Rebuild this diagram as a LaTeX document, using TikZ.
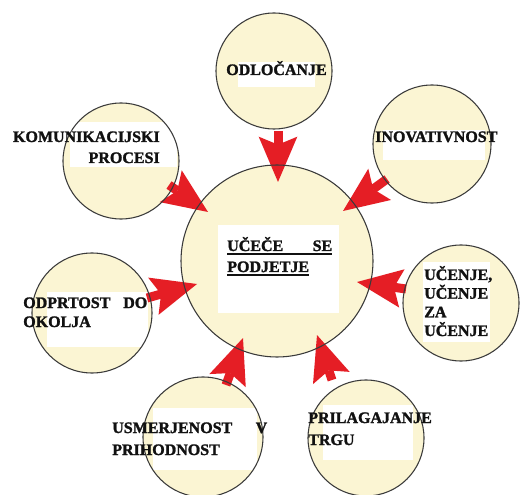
\documentclass[tikz,border=0pt]{standalone}
\usepackage{fontspec}
\setmainfont{Liberation Serif}[BoldFeatures={FakeBold=1.6}]
\usetikzlibrary{arrows.meta}
\definecolor{disc}{HTML}{FBF5D3}
\definecolor{rim}{HTML}{3A3A3A}
\definecolor{arrowred}{HTML}{E51E25}
\definecolor{ink}{HTML}{111111}
% underline with a heavier rule
\newcommand\ulbar[1]{\leavevmode\setbox0\hbox{#1}\rlap{\rule[-3.2pt]{\wd0}{1.4pt}}\box0}
\begin{document}
\begin{tikzpicture}[x=0.75pt,y=-0.75pt,
  bubble/.style={circle, fill=disc, inner sep=0pt, minimum size=1.5pt*#1},
  rimline/.style={draw=rim, line width=0.8pt},
  blank/.style={fill=white},
  label/.style={font=\fontsize{12}{15.75}\selectfont\bfseries, text=ink, inner sep=0pt},
  bigarrow/.style={draw=arrowred, color=arrowred, line width=6.75pt,
    -{Stealth[length=34pt, width=29pt, inset=6pt, line width=0pt]}}]
\useasboundingbox (0,0) rectangle (521,495);
\fill[white] (0,0) rectangle (521,495);

% discs
\node[bubble=96] (core) at (277,261) {};
\node[bubble=58] (odl)  at (274,71)  {};
\node[bubble=58] (kom)  at (121,161) {};
\node[bubble=59] (ino)  at (432,144) {};
\node[bubble=58] (uc)   at (461,303) {};
\node[bubble=60] (odp)  at (92,313)  {};
\node[bubble=60] (usm)  at (203,437) {};
\node[bubble=58] (pri)  at (366,438) {};

% white text panels
\fill[blank] (218,225) rectangle (339,313);
\fill[blank] (238,62) rectangle (315,87);
\fill[blank] (70,122) rectangle (177,167);
\fill[blank] (383,130) rectangle (485,160);
\fill[blank] (423,262) rectangle (490,342);
\fill[blank] (47,292) rectangle (148,347);
\fill[blank] (153,408) rectangle (257,470);
\fill[blank] (323,405) rectangle (413,460);

% arrow end points
\coordinate (a1s) at (278,131); \coordinate (a1e) at (278,182);
\coordinate (a2s) at (169,185); \coordinate (a2e) at (208,212);
\coordinate (a3s) at (387,179); \coordinate (a3e) at (343,211);
\coordinate (a4s) at (406,289); \coordinate (a4e) at (357,282);
\coordinate (a5s) at (147,298); \coordinate (a5e) at (197,284);
\coordinate (a6s) at (226,385); \coordinate (a6e) at (243,338);
\coordinate (a7s) at (332,380); \coordinate (a7e) at (317,335);

% arrows into the central disc
\draw[bigarrow] (a1s) -- (a1e);
\draw[bigarrow] (a2s) -- (a2e);
\draw[bigarrow] (a3s) -- (a3e);
\draw[bigarrow] (a4s) -- (a4e);
\draw[bigarrow] (a5s) -- (a5e);
\draw[bigarrow] (a6s) -- (a6e);
\draw[bigarrow] (a7s) -- (a7e);

% disc outlines
\draw[rimline] (core) circle[radius=96];
\draw[rimline] (odl) circle[radius=58];
\draw[rimline] (kom) circle[radius=58];
\draw[rimline] (ino) circle[radius=59];
\draw[rimline] (uc) circle[radius=58];
\draw[rimline] (odp) circle[radius=60];
\draw[rimline] (usm) circle[radius=60];
\draw[rimline] (pri) circle[radius=58];

% labels
\node[label, anchor=base west, text width=78.75pt, align=left] (tcore) at (227,251)
  {\ulbar{\makebox[78.75pt][s]{UČEČE\hfill SE}}\\\ulbar{PODJETJE}};
\node[label, anchor=base west] (todl) at (226,75) {ODLOČANJE};
\node[label, anchor=base east, text width=112.5pt, align=right] (tkom) at (160,142)
  {KOMUNIKACIJSKI\\PROCESI};
\node[label, anchor=base west] (tino) at (375,142) {INOVATIVNOST};
\node[label, anchor=base west, text width=60pt, align=left,
  font=\fontsize{12}{14}\selectfont\bfseries] (tuc) at (424,280)
  {UČENJE,\\UČENJE\\ZA\\UČENJE};
\node[label, anchor=base west, text width=93pt, align=left,
  font=\fontsize{12}{14.25}\selectfont\bfseries] (todp) at (23,308)
  {\makebox[93pt][s]{ODPRTOST\hfill DO}\\OKOLJA};
\node[label, anchor=base west, text width=116.25pt, align=left,
  font=\fontsize{12}{16.5}\selectfont\bfseries] (tusm) at (112,433)
  {\makebox[116.25pt][s]{USMERJENOST\hfill V}\\PRIHODNOST};
\node[label, anchor=base west, text width=100pt, align=left,
  font=\fontsize{12}{16.5}\selectfont\bfseries] (tpri) at (308,423)
  {PRILAGAJANJE\\TRGU};
\end{tikzpicture}
\end{document}
